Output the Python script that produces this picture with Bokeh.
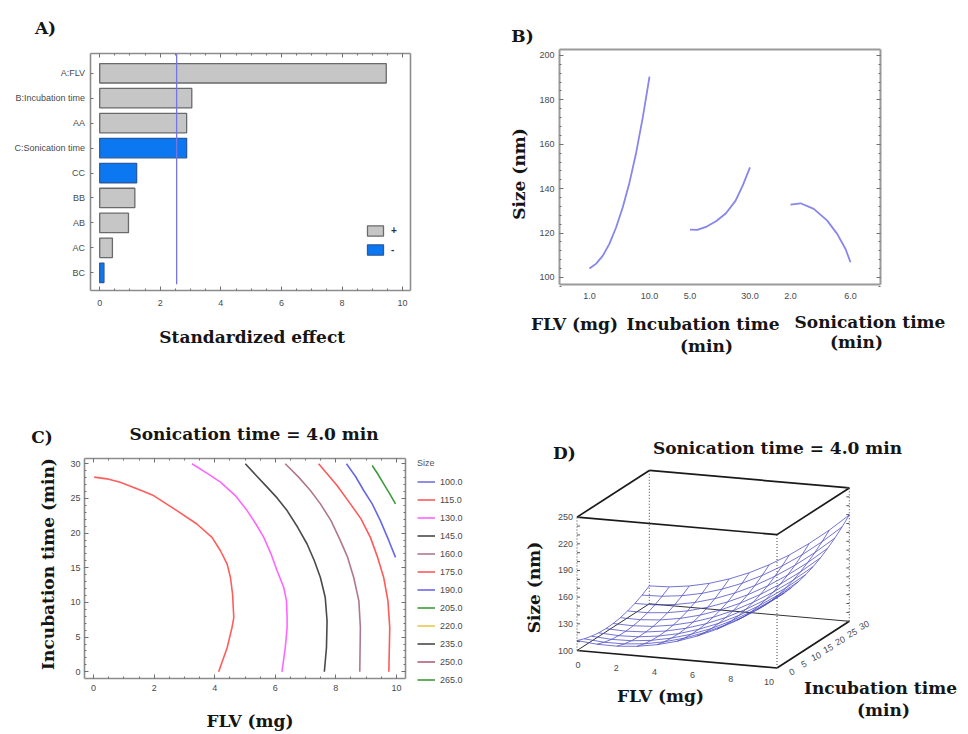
import numpy as np
from bokeh.plotting import figure
from bokeh.models import (Range1d, LinearAxis, FixedTicker, Label, Legend,
                          LegendItem, ColumnDataSource)
from bokeh.layouts import column, row
from bokeh.embed import file_html
from bokeh.resources import INLINE

SERIF = "DejaVu Serif"
SANS = "Liberation Sans"

# ---------------- Data ----------------
# Panel A - standardized effects
effect_terms = ["A:FLV", "B:Incubation time", "AA", "C:Sonication time", "CC", "BB", "AB", "AC", "BC"]
effect_values = [9.46, 3.04, 2.87, 2.87, 1.22, 1.16, 0.95, 0.42, 0.14]
effect_signs = ["+", "+", "+", "-", "-", "+", "+", "+", "-"]
effect_critical = 2.54
effect_xticks = [0, 2, 4, 6, 8, 10]

# Panel B - main effects plot
flv_mg = [1, 2, 3, 4, 5, 6, 7, 8, 9, 10]
flv_size = [104.0, 106.2, 109.8, 115.2, 122.6, 131.7, 142.8, 156.2, 172.2, 190.5]
inc_min = [5, 8, 12, 16, 20, 24, 27, 30]
inc_size = [121.5, 121.4, 122.9, 125.4, 128.9, 134.6, 141.5, 149.6]
son_min = [2.0, 2.67, 3.55, 4.45, 5.11, 5.67, 6.0]
son_size = [132.8, 133.4, 130.9, 125.6, 119.6, 112.8, 106.8]
b_factor_low = [1.0, 5.0, 2.0]
b_factor_high = [10.0, 30.0, 6.0]
b_tick_labels = ["1.0", "10.0", "5.0", "30.0", "2.0", "6.0"]
b_yticks = [100, 120, 140, 160, 180, 200]

# Panel C - contour lines (FLV, incubation) per size level
c115_flv = [4.13, 4.41, 4.57, 4.63, 4.59, 4.52, 4.41, 4.19, 3.91, 3.41, 2.75, 1.98, 1.43, 0.88, 0.44, 0.02]
c115_inc = [0, 3.47, 6.37, 7.81, 11.19, 13.6, 15.53, 17.46, 19.39, 21.32, 23.25, 25.42, 26.39, 27.35, 27.83, 28.08]
c130_flv = [6.22, 6.33, 6.39, 6.39, 6.37, 6.28, 6.06, 5.86, 5.62, 5.36, 5.07, 4.68, 4.19, 3.74, 3.25]
c130_inc = [0, 3.47, 6.37, 7.81, 10.23, 12.16, 14.57, 16.98, 19.39, 21.32, 23.25, 25.42, 27.35, 28.65, 30.0]
c145_flv = [7.62, 7.69, 7.71, 7.65, 7.49, 7.29, 7.05, 6.74, 6.39, 6.06, 5.73, 5.37, 5.01]
c145_inc = [0, 3.47, 7.33, 10.71, 13.6, 16.02, 18.43, 20.84, 23.25, 25.08, 26.63, 28.32, 30.0]
c160_flv = [8.79, 8.81, 8.76, 8.59, 8.39, 8.15, 7.84, 7.49, 7.16, 6.77, 6.33]
c160_inc = [0, 6.37, 10.23, 13.6, 16.5, 18.91, 21.8, 24.22, 26.15, 28.08, 30.0]
c175_flv = [9.75, 9.78, 9.72, 9.58, 9.38, 9.14, 8.83, 8.48, 8.04, 7.76, 7.43]
c175_inc = [0, 6.37, 10.23, 13.6, 16.5, 19.39, 22.05, 24.22, 26.87, 28.32, 30.0]
c190_flv = [9.97, 9.75, 9.47, 9.2, 8.92, 8.65, 8.35]
c190_inc = [16.5, 18.91, 21.8, 24.22, 26.15, 28.17, 30.0]
c205_flv = [9.97, 9.78, 9.58, 9.38, 9.2]
c205_inc = [24.22, 25.66, 27.11, 28.56, 29.76]
c_levels = ["100.0", "115.0", "130.0", "145.0", "160.0", "175.0", "190.0", "205.0", "220.0", "235.0", "250.0", "265.0"]
c_colors = ["#7272e6", "#ff5c5c", "#ff66ff", "#4a4a4a", "#b07890", "#ff5a5a", "#6868e6",
            "#3c9c3c", "#e8c850", "#4a4a4a", "#b0607a", "#3c9c3c"]
c_xticks = [0, 2, 4, 6, 8, 10]
c_yticks = [0, 5, 10, 15, 20, 25, 30]

# Panel D - response surface (rows: incubation, cols: FLV)
d_flv = [0, 1, 2, 3, 4, 5, 6, 7, 8, 9, 10]
d_inc = [0, 3, 6, 9, 12, 15, 18, 21, 24, 27, 30]
d_size = [
    [111.2, 109.0, 108.8, 110.6, 114.4, 120.2, 128.0, 137.8, 149.6, 163.4, 179.2],
    [107.9, 106.0, 106.1, 108.2, 112.4, 118.5, 126.6, 136.7, 148.8, 162.9, 179.0],
    [105.6, 104.0, 104.4, 106.8, 111.3, 117.7, 126.1, 136.6, 149.0, 163.4, 179.9],
    [104.1, 102.9, 103.6, 106.4, 111.1, 117.9, 126.6, 137.4, 150.1, 164.8, 181.6],
    [103.6, 102.7, 103.8, 106.8, 111.9, 118.9, 128.0, 139.1, 152.1, 167.2, 184.2],
    [104.1, 103.5, 104.8, 108.2, 113.6, 121.0, 130.3, 141.7, 155.1, 170.5, 187.8],
    [105.4, 105.1, 106.8, 110.5, 116.2, 123.9, 133.6, 145.3, 159.0, 174.6, 192.3],
    [107.7, 107.7, 109.7, 113.7, 119.7, 127.7, 137.7, 149.7, 163.8, 179.8, 197.8],
    [110.9, 111.2, 113.6, 117.9, 124.2, 132.5, 142.8, 155.2, 169.5, 185.8, 204.1],
    [115.0, 115.7, 118.3, 122.9, 129.6, 138.2, 148.9, 161.5, 176.1, 192.8, 211.4],
    [120.1, 121.0, 124.0, 128.9, 135.9, 144.8, 155.8, 168.7, 183.7, 200.6, 219.6],
]
d_zticks = [100, 130, 160, 190, 220, 250]
d_xticks = [0, 2, 4, 6, 8, 10]
d_yticks = [0, 5, 10, 15, 20, 25, 30]


# ---------------- helpers ----------------
class Panel:
    """A figure whose frame is its whole canvas; the plot box is placed by its ranges."""

    def __init__(self, canvas, box, xr, yr):
        cl, ct, cr, cb = canvas
        l, t, r, b = box
        self.kx = (xr[1] - xr[0]) / (r - l)
        self.ky = (yr[1] - yr[0]) / (b - t)
        self.xr, self.yr, self.box = xr, yr, box
        x0 = xr[0] - (l - cl) * self.kx
        x1 = xr[1] + (cr - r) * self.kx
        y0 = yr[0] - (cb - b) * self.ky
        y1 = yr[1] + (t - ct) * self.ky
        self.p = figure(width=int(cr - cl), height=int(cb - ct), min_border=0,
                        x_range=Range1d(x0, x1), y_range=Range1d(y0, y1),
                        output_backend="svg", toolbar_location=None, tools="",
                        x_axis_location=None, y_axis_location=None)
        self.p.grid.visible = False
        self.p.outline_line_color = None
        self.p.background_fill_color = "white"
        self.p.border_fill_color = "white"

    def data(self, px, py):
        l, t, r, b = self.box
        return self.xr[0] + (px - l) * self.kx, self.yr[0] + (b - py) * self.ky

    def text(self, px, py, text, size="17px", font=SERIF, style="bold", angle=0.0,
             align="center", color="#151515"):
        x, y = self.data(px, py)
        self.p.add_layout(Label(x=x, y=y, text=text, text_font=font, text_font_size=size,
                                text_font_style=style, text_align=align, text_baseline="middle",
                                angle=angle, text_color=color))

    def axis(self, side, ticker, labels=True, overrides=None, tick_in=4, minor_in=2,
             standoff=4, line_color="#8c8c8c", line_width=1.6):
        loc = {"below": self.yr[0], "above": self.yr[1], "left": self.xr[0], "right": self.xr[1]}[side]
        bounds = self.xr if side in ("below", "above") else self.yr
        ax = LinearAxis(ticker=ticker, fixed_location=loc, bounds=bounds)
        ax.axis_line_color = line_color
        ax.axis_line_width = line_width
        ax.major_tick_in = tick_in
        ax.major_tick_out = 0
        ax.minor_tick_in = minor_in
        ax.minor_tick_out = 0
        ax.major_tick_line_color = "#707070"
        ax.minor_tick_line_color = "#707070"
        ax.major_label_text_font = SANS
        ax.major_label_text_font_size = "9px"
        ax.major_label_text_color = "#4a4a4a" if labels else None
        ax.major_label_standoff = standoff
        if overrides:
            ax.major_label_overrides = overrides
        self.p.add_layout(ax, side)
        return ax


# ---------------- Panel A ----------------
A = Panel((0, 0, 484, 375), (89.5, 53.3, 410, 290), (-0.32, 10.26), (0.29, 9.78))
pA = A.p
ypos = list(range(len(effect_terms), 0, -1))
pos_src = ColumnDataSource(dict(y=[y for y, s in zip(ypos, effect_signs) if s == "+"],
                                v=[v for v, s in zip(effect_values, effect_signs) if s == "+"]))
neg_src = ColumnDataSource(dict(y=[y for y, s in zip(ypos, effect_signs) if s == "-"],
                                v=[v for v, s in zip(effect_values, effect_signs) if s == "-"]))
rp = pA.hbar(y="y", left=0, right="v", height=0.78, source=pos_src,
             fill_color="#c6c6c6", line_color="#6a6a6a", line_width=1.3)
rn = pA.hbar(y="y", left=0, right="v", height=0.78, source=neg_src,
             fill_color="#0b78f2", line_color="#2a5aa0", line_width=1.3)
pA.line([effect_critical, effect_critical], [A.yr[0] + 0.25, A.yr[1]], line_color="#7676e0", line_width=1.3)
minorA = [i * 0.5 for i in range(21)]
A.axis("below", FixedTicker(ticks=effect_xticks, minor_ticks=minorA), standoff=9)
A.axis("above", FixedTicker(ticks=effect_xticks, minor_ticks=minorA), labels=False)
A.axis("left", FixedTicker(ticks=ypos), overrides={y: t for y, t in zip(ypos, effect_terms)},
       tick_in=3, standoff=5)
A.axis("right", FixedTicker(ticks=ypos), labels=False, tick_in=0)
legA = Legend(items=[LegendItem(label="+", renderers=[rp]), LegendItem(label="-", renderers=[rn])],
              location=(365, 119), glyph_width=20, glyph_height=13, label_height=13, spacing=6,
              padding=0, margin=0, border_line_color=None, background_fill_alpha=0,
              label_text_font=SANS, label_text_font_size="10px", label_text_font_style="bold",
              label_text_color="#333333", label_standoff=6)
pA.add_layout(legA)
A.text(45, 27.5, "A)")
A.text(251.7, 336, "Standardized effect")

# ---------------- Panel B ----------------
SEG_STEP, SEG_W = 100.5, 60.0


def bx(seg, v):
    return seg * SEG_STEP + (v - b_factor_low[seg]) / (b_factor_high[seg] - b_factor_low[seg]) * SEG_W


B = Panel((484, 0, 966, 375), (559, 49, 880, 284), (-30, 291), (96.8, 202.7))
pB = B.p
for seg, (xs, ys) in enumerate([(flv_mg, flv_size), (inc_min, inc_size), (son_min, son_size)]):
    pB.line([bx(seg, v) for v in xs], ys, line_color="#8686ec", line_width=1.8)
b_tick_pos = []
for seg in range(3):
    b_tick_pos += [bx(seg, b_factor_low[seg]), bx(seg, b_factor_high[seg])]
B.axis("below", FixedTicker(ticks=b_tick_pos), overrides={t: l for t, l in zip(b_tick_pos, b_tick_labels)},
       tick_in=0, minor_in=0, standoff=8, line_color="#9a9a9a", line_width=2)
minorB = list(range(96, 204, 4))
B.axis("left", FixedTicker(ticks=b_yticks, minor_ticks=minorB), standoff=5,
       line_color="#9a9a9a", line_width=2)
B.axis("right", FixedTicker(ticks=b_yticks, minor_ticks=minorB), labels=False,
       line_color="#9a9a9a", line_width=2)
B.axis("above", FixedTicker(ticks=[]), labels=False, tick_in=0, minor_in=0,
       line_color="#9a9a9a", line_width=2)
B.text(522, 35, "B)")
B.text(518.5, 173.5, "Size (nm)", angle=np.pi / 2)
B.text(574, 323.5, "FLV (mg)")
B.text(702.5, 323, "Incubation time")
B.text(706, 345, "(min)")
B.text(869.5, 321.5, "Sonication time")
B.text(856, 341.5, "(min)")

# ---------------- Panel C ----------------
C = Panel((0, 375, 484, 732), (84, 458.3, 405, 678.3), (-0.30, 10.30), (-1.01, 30.72))
pC = C.p
contours = {"115.0": (c115_flv, c115_inc), "130.0": (c130_flv, c130_inc),
            "145.0": (c145_flv, c145_inc), "160.0": (c160_flv, c160_inc),
            "175.0": (c175_flv, c175_inc), "190.0": (c190_flv, c190_inc),
            "205.0": (c205_flv, c205_inc)}
items = []
for lev, col in zip(c_levels, c_colors):
    # levels that do not occur in the plotted region still get a legend entry
    xs, ys = contours.get(lev, ([np.nan], [np.nan]))
    r = pC.line(xs, ys, line_color=col, line_width=1.6)
    items.append(LegendItem(label=lev, renderers=[r]))
legC = Legend(items=items, location=(417, 45), title="Size", title_text_font=SANS,
              title_text_font_size="9px", title_text_color="#555555", title_text_font_style="normal",
              title_standoff=6, glyph_width=18, glyph_height=15, label_height=15, spacing=3,
              padding=0, margin=0, border_line_color=None, background_fill_alpha=0,
              label_text_font=SANS, label_text_font_size="9px", label_text_color="#4a4a4a",
              label_standoff=5)
pC.add_layout(legC)
minorCx = [i * 0.5 for i in range(21)]
minorCy = list(range(0, 31))
C.axis("below", FixedTicker(ticks=c_xticks, minor_ticks=minorCx), standoff=6)
C.axis("above", FixedTicker(ticks=c_xticks, minor_ticks=minorCx), labels=False)
C.axis("left", FixedTicker(ticks=c_yticks, minor_ticks=minorCy), standoff=4)
C.axis("right", FixedTicker(ticks=c_yticks, minor_ticks=minorCy), labels=False)
C.text(41.5, 436, "C)")
C.text(253.5, 433.5, "Sonication time = 4.0 min")
C.text(47.5, 563.5, "Incubation time (min)", angle=np.pi / 2)
C.text(249.5, 720, "FLV (mg)")

# ---------------- Panel D ----------------
pD = figure(width=482, height=357, min_border=0,
            x_range=Range1d(484, 966), y_range=Range1d(732, 375),
            output_backend="svg", toolbar_location=None, tools="",
            x_axis_location=None, y_axis_location=None)
pD.grid.visible = False
pD.outline_line_color = None

OX, OY = 576.5, 650.0
EX, EXY = 20.0, 1.75
ET, ETY = 2.41, -1.557
EZ = 0.889


def proj(f, t, z):
    return OX + EX * f + ET * t, OY + EXY * f + ETY * t - EZ * (z - 100)


f0, f1 = d_flv[0], d_flv[-1]
t0, t1 = d_inc[0], d_inc[-1]
z0, z1 = d_zticks[0], d_zticks[-1]


def seg(a, b):
    pa, pb = proj(*a), proj(*b)
    return [pa[0], pb[0]], [pa[1], pb[1]]


solid_thick = [((f0, t0, z1), (f1, t0, z1)), ((f1, t0, z1), (f1, t1, z1)),
               ((f1, t1, z1), (f0, t1, z1)), ((f0, t1, z1), (f0, t0, z1)),
               ((f0, t0, z0), (f1, t0, z0)), ((f1, t0, z0), (f1, t1, z0))]
solid_thin = [((f0, t1, z0), (f1, t1, z0)), ((f0, t0, z0), (f0, t1, z0))]
dotted = [((f0, t0, z0), (f0, t0, z1)), ((f1, t0, z0), (f1, t0, z1)),
          ((f0, t1, z0), (f0, t1, z1)), ((f1, t1, z0), (f1, t1, z1))]
sx, sy = zip(*[seg(a, b) for a, b in solid_thick])
pD.multi_line(list(sx), list(sy), line_color="#1a1a1a", line_width=1.7)
sx, sy = zip(*[seg(a, b) for a, b in solid_thin])
pD.multi_line(list(sx), list(sy), line_color="#333333", line_width=1.0)
sx, sy = zip(*[seg(a, b) for a, b in dotted])
pD.multi_line(list(sx), list(sy), line_color="#444444", line_width=1.0, line_dash="1 2")
tx, ty = [], []
for z in range(z0, z1 + 1, 10):
    px, py = proj(f0, t0, z)
    tx.append([px, px + 3]); ty.append([py, py])
    px, py = proj(f1, t1, z)
    tx.append([px - 3, px]); ty.append([py, py])
pD.multi_line(tx, ty, line_color="#555555", line_width=1)

mx, my = [], []
for i, t in enumerate(d_inc):
    pts = [proj(f, t, d_size[i][j]) for j, f in enumerate(d_flv)]
    mx.append([p[0] for p in pts]); my.append([p[1] for p in pts])
for j, f in enumerate(d_flv):
    pts = [proj(f, t, d_size[i][j]) for i, t in enumerate(d_inc)]
    mx.append([p[0] for p in pts]); my.append([p[1] for p in pts])
pD.multi_line(mx, my, line_color="#4848c4", line_width=0.9, line_alpha=0.85)

for z in d_zticks:
    px, py = proj(f0, t0, z)
    pD.add_layout(Label(x=px - 4, y=py, text=str(z), text_font=SANS, text_font_size="9px",
                        text_color="#4a4a4a", text_align="right", text_baseline="middle"))
for f in d_xticks:
    px, py = proj(f, t0, z0)
    pD.add_layout(Label(x=px - 0.9 * f + 1, y=py + 14, text=str(f), text_font=SANS, text_font_size="9px",
                        text_color="#4a4a4a", text_align="center", text_baseline="middle"))
for t in d_yticks:
    px, py = proj(f1, t, z0)
    pD.add_layout(Label(x=px + 15, y=py + 4, text=str(t), text_font=SANS, text_font_size="9px",
                        text_color="#4a4a4a", text_align="center", text_baseline="middle", angle=0.45))


def dtext(px, py, text, angle=0.0):
    pD.add_layout(Label(x=px, y=py, text=text, text_font=SERIF, text_font_size="17px",
                        text_font_style="bold", text_color="#151515", text_align="center",
                        text_baseline="middle", angle=angle))


dtext(564, 452, "D)")
dtext(777, 447, "Sonication time = 4.0 min")
dtext(533, 587, "Size (nm)", angle=np.pi / 2)
dtext(660, 695, "FLV (mg)")
dtext(880, 687, "Incubation time")
dtext(883, 709, "(min)")

layout = column(row(pA, pB), row(pC, pD))
open("out.html", "w").write(file_html(layout, INLINE))
